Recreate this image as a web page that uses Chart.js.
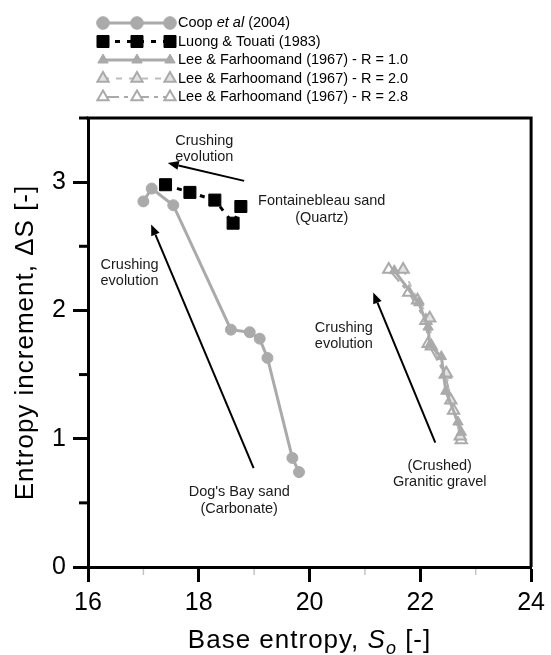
<!DOCTYPE html>
<html>
<head>
<meta charset="utf-8">
<title>Entropy increment vs base entropy</title>
<script src="https://cdn.jsdelivr.net/npm/chart.js@4.4.1/dist/chart.umd.min.js"></script>
<style>
  html, body { margin: 0; padding: 0; background: #fff; }
  #wrap { width: 551px; height: 655px; }
</style>
</head>
<body>
<div id="wrap"><canvas id="chart" width="551" height="655"></canvas></div>
<script>
// Entropy increment against base entropy for three crushed granular materials

const FONT = "'Liberation Sans', Arial, sans-serif";

// Coop et al (2004) - Dog's Bay sand
const coopS0 = [17.00, 17.15, 17.54, 18.58, 18.92, 19.10, 19.24, 19.69, 19.81];
const coopDS = [2.85, 2.95, 2.82, 1.85, 1.83, 1.78, 1.63, 0.85, 0.74];

// Luong & Touati (1983) - Fontainebleau sand
const luongS0 = [17.40, 17.84, 18.29, 18.62, 18.76];
const luongDS = [2.98, 2.92, 2.86, 2.68, 2.81];

// Lee & Farhoomand (1967) - granitic gravel, three values of R
const lee10S0 = [21.53, 21.97, 22.14, 22.17, 22.38, 22.46, 22.68, 22.74];
const lee10DS = [2.31, 2.06, 1.87, 1.73, 1.64, 1.37, 1.13, 1.05];
const lee20S0 = [21.69, 21.95, 22.17, 22.20, 22.47, 22.55, 22.72];
const lee20DS = [2.32, 2.08, 1.94, 1.72, 1.51, 1.30, 1.02];
const lee28S0 = [21.43, 21.79, 22.10, 22.14, 22.45, 22.60, 22.74];
const lee28DS = [2.32, 2.14, 1.92, 1.74, 1.50, 1.22, 0.99];

const xTicks = [16, 18, 20, 22, 24];
const yTicks = [0, 1, 2, 3];
const xMinor = [17, 19, 21, 23];
const yMinor = [0.5, 1.5, 2.5, 3.5];

// text notes and arrows, placed in axis units
const notes = [
  { lines: ['Crushing', 'evolution'], x: 18.10, y: 3.26 },
  { lines: ['Fontainebleau sand', '(Quartz)'], x: 20.22, y: 2.785 },
  { lines: ['Crushing', 'evolution'], x: 16.75, y: 2.29 },
  { lines: ["Dog's Bay sand", '(Carbonate)'], x: 18.73, y: 0.52 },
  { lines: ['Crushing', 'evolution'], x: 20.62, y: 1.80 },
  { lines: ['(Crushed)', 'Granitic gravel'], x: 22.35, y: 0.725 }
];
const arrows = [
  { from: [18.82, 3.01], to: [17.44, 3.15] },
  { from: [18.99, 0.77], to: [17.14, 2.67] },
  { from: [22.27, 0.97], to: [21.15, 2.14] }
];

const pts = (xs, ys) => xs.map((x, i) => ({ x: x, y: ys[i] }));
const GREY = '#aaaaaa';

const datasets = [
  {
    label: 'Coop et al (2004)',
    data: pts(coopS0, coopDS),
    borderColor: GREY, backgroundColor: GREY, borderWidth: 3,
    pointStyle: 'circle', pointRadius: 5.5,
    pointBackgroundColor: GREY, pointBorderColor: GREY, pointBorderWidth: 1
  },
  {
    label: 'Luong & Touati (1983)',
    data: pts(luongS0, luongDS),
    borderColor: '#000', backgroundColor: '#000', borderWidth: 3, borderDash: [5, 7],
    pointStyle: 'rect', pointRadius: 8.5,
    pointBackgroundColor: '#000', pointBorderColor: '#000', pointBorderWidth: 1
  },
  {
    label: 'Lee & Farhoomand (1967) - R = 1.0',
    data: pts(lee10S0, lee10DS),
    borderColor: GREY, backgroundColor: GREY, borderWidth: 3,
    pointStyle: 'triangle', pointRadius: 6,
    pointBackgroundColor: GREY, pointBorderColor: GREY, pointBorderWidth: 1
  },
  {
    label: 'Lee & Farhoomand (1967) - R = 2.0',
    data: pts(lee20S0, lee20DS),
    borderColor: '#bdbdbd', backgroundColor: '#bdbdbd', borderWidth: 2, borderDash: [6, 7],
    pointStyle: 'triangle', pointRadius: 6.5,
    pointBackgroundColor: '#e2e2e2', pointBorderColor: GREY, pointBorderWidth: 2
  },
  {
    label: 'Lee & Farhoomand (1967) - R = 2.8',
    data: pts(lee28S0, lee28DS),
    borderColor: GREY, backgroundColor: GREY, borderWidth: 2, borderDash: [16, 5, 4, 5],
    pointStyle: 'triangle', pointRadius: 6.5,
    pointBackgroundColor: '#fff', pointBorderColor: GREY, pointBorderWidth: 2
  }
];

// legend text, split so that "et al" can be set in italics
const legendText = [
  [['Coop ', ''], ['et al', 'italic '], [' (2004)', '']],
  [['Luong & Touati (1983)', '']],
  [['Lee & Farhoomand (1967) - R = 1.0', '']],
  [['Lee & Farhoomand (1967) - R = 2.0', '']],
  [['Lee & Farhoomand (1967) - R = 2.8', '']]
];

function drawPieces(ctx, pieces, x, y, size) {
  pieces.forEach(p => {
    ctx.font = p[1] + size + 'px ' + FONT;
    ctx.fillText(p[0], x, y);
    x += ctx.measureText(p[0]).width;
  });
}

const decorations = {
  id: 'decorations',
  afterDraw(chart) {
    const ctx = chart.ctx;
    const a = chart.chartArea;
    const sx = chart.scales.x, sy = chart.scales.y;
    ctx.save();

    // top and right edges of the frame
    ctx.strokeStyle = '#000';
    ctx.lineWidth = 3;
    ctx.beginPath();
    ctx.moveTo(a.left - 1.5, a.top);
    ctx.lineTo(a.right, a.top);
    ctx.lineTo(a.right, a.bottom);
    ctx.stroke();

    // minor ticks
    yMinor.forEach(v => {
      const y = sy.getPixelForValue(v);
      ctx.beginPath(); ctx.moveTo(a.left - 9, y); ctx.lineTo(a.left, y); ctx.stroke();
    });
    ctx.strokeStyle = '#c4c4c4';
    ctx.lineWidth = 1.5;
    xMinor.forEach(v => {
      const x = sx.getPixelForValue(v);
      ctx.beginPath(); ctx.moveTo(x, a.bottom + 2); ctx.lineTo(x, a.bottom + 8); ctx.stroke();
    });

    // arrows
    ctx.strokeStyle = '#000';
    ctx.fillStyle = '#000';
    ctx.lineWidth = 2;
    arrows.forEach(ar => {
      const x0 = sx.getPixelForValue(ar.from[0]), y0 = sy.getPixelForValue(ar.from[1]);
      const x1 = sx.getPixelForValue(ar.to[0]), y1 = sy.getPixelForValue(ar.to[1]);
      const ang = Math.atan2(y1 - y0, x1 - x0);
      const hl = 11, hw = 4.5;
      const bx = x1 - hl * Math.cos(ang), by = y1 - hl * Math.sin(ang);
      ctx.beginPath(); ctx.moveTo(x0, y0); ctx.lineTo(bx, by); ctx.stroke();
      ctx.beginPath();
      ctx.moveTo(x1, y1);
      ctx.lineTo(bx + hw * Math.sin(ang), by - hw * Math.cos(ang));
      ctx.lineTo(bx - hw * Math.sin(ang), by + hw * Math.cos(ang));
      ctx.closePath();
      ctx.fill();
    });

    // notes
    ctx.fillStyle = '#1a1a1a';
    ctx.font = '14.5px ' + FONT;
    ctx.textAlign = 'center';
    ctx.textBaseline = 'middle';
    notes.forEach(n => {
      const x = sx.getPixelForValue(n.x), y = sy.getPixelForValue(n.y);
      const lh = 16.5;
      n.lines.forEach((t, i) => {
        ctx.fillText(t, x, y + (i - (n.lines.length - 1) / 2) * lh);
      });
    });

    // axis titles (slightly tracked out)
    ctx.fillStyle = '#000';
    ctx.letterSpacing = '1px';
    ctx.save();
    ctx.translate(26, (a.top + a.bottom) / 2);
    ctx.rotate(-Math.PI / 2);
    ctx.font = '26px ' + FONT;
    ctx.fillText('Entropy increment, \u0394S [-]', 0, 0);
    ctx.restore();

    const xt = [['Base entropy, ', '', 26, 0], ['S', 'italic ', 26, 0], ['o', 'italic ', 18, 6], [' [-]', '', 26, 0]];
    let w = 0;
    xt.forEach(p => { ctx.font = p[1] + p[2] + 'px ' + FONT; w += ctx.measureText(p[0]).width; });
    let tx = (a.left + a.right) / 2 - w / 2;
    ctx.textAlign = 'left';
    ctx.textBaseline = 'alphabetic';
    xt.forEach(p => {
      ctx.font = p[1] + p[2] + 'px ' + FONT;
      ctx.fillText(p[0], tx, 648 + p[3]);
      tx += ctx.measureText(p[0]).width;
    });
    ctx.letterSpacing = '0px';

    // legend with line samples
    const rowY = [23, 41.5, 60, 78.5, 97];
    const sampleX = [103, 137, 170];
    const legendRadius = [6.3, 8.5, 6, 6.5, 6.5];
    datasets.forEach((ds, i) => {
      const y = rowY[i];
      ctx.strokeStyle = ds.borderColor;
      ctx.lineWidth = ds.borderWidth;
      ctx.setLineDash(ds.borderDash || []);
      ctx.beginPath(); ctx.moveTo(sampleX[0], y); ctx.lineTo(sampleX[2], y); ctx.stroke();
      ctx.setLineDash([]);
      ctx.fillStyle = ds.pointBackgroundColor;
      ctx.strokeStyle = ds.pointBorderColor;
      ctx.lineWidth = ds.pointBorderWidth;
      sampleX.forEach(x => {
        Chart.helpers.drawPoint(ctx, {
          pointStyle: ds.pointStyle, radius: legendRadius[i], rotation: 0,
          borderWidth: ds.pointBorderWidth
        }, x, y);
      });
      ctx.fillStyle = '#000';
      ctx.textBaseline = 'middle';
      drawPieces(ctx, legendText[i], 178, y, 14.5);
    });

    ctx.restore();
  }
};

Chart.defaults.font.family = FONT;

new Chart(document.getElementById('chart').getContext('2d'), {
  type: 'scatter',
  data: { datasets: datasets.map(d => Object.assign({ showLine: true, tension: 0 }, d)) },
  options: {
    responsive: false,
    animation: false,
    events: [],
    layout: { padding: { top: 118, right: 15, left: 0, bottom: 0 } },
    plugins: { legend: { display: false }, tooltip: { enabled: false } },
    scales: {
      x: {
        type: 'linear', min: 16, max: 24,
        afterFit: s => { s.height = 88; },
        afterBuildTicks: s => { s.ticks = xTicks.map(v => ({ value: v })); },
        grid: { drawOnChartArea: false, drawTicks: true, tickLength: 15, tickWidth: 3, tickColor: '#000' },
        border: { display: true, color: '#000', width: 3 },
        ticks: { color: '#000', font: { size: 25 }, padding: 6, maxRotation: 0 },
        title: { display: false }
      },
      y: {
        type: 'linear', min: 0, max: 3.5,
        afterFit: s => { s.width = 88; },
        afterBuildTicks: s => { s.ticks = yTicks.map(v => ({ value: v })); },
        grid: { drawOnChartArea: false, drawTicks: true, tickLength: 15, tickWidth: 3, tickColor: '#000' },
        border: { display: true, color: '#000', width: 3 },
        ticks: { color: '#000', font: { size: 25 }, padding: 7 },
        title: { display: false }
      }
    }
  },
  plugins: [decorations]
});
</script>
</body>
</html>
